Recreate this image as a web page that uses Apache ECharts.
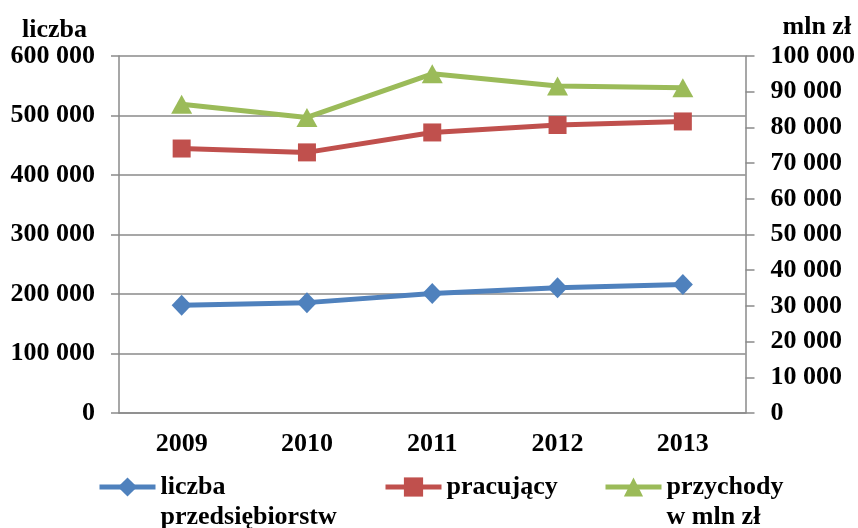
<!DOCTYPE html>
<html>
<head>
<meta charset="utf-8">
<script src="https://cdn.jsdelivr.net/npm/echarts@6/dist/echarts.min.js"></script>
<style>
  html, body { margin: 0; padding: 0; background: #fff; }
  #chart { width: 858px; height: 528px; }
</style>
</head>
<body>
<div id="chart"></div>
<script>
// Years on the category axis
const years = ['2009', '2010', '2011', '2012', '2013'];
// Number of enterprises (left axis)
const liczbaPrzedsiebiorstw = [181000, 185500, 201000, 210500, 216000];
// Employed persons (left axis)
const pracujacy = [444500, 438000, 471500, 484000, 490000];
// Revenue in million PLN (right axis)
const przychody = [86500, 82800, 95000, 91600, 91100];

// Axis ranges / steps
const leftMax = 600000, leftStep = 100000;
const rightMax = 100000, rightStep = 10000;

const FONT = "'Liberation Serif', 'Times New Roman', serif";
const FS = 26;
const AXIS_GRAY = '#8a8a8a';
const BLUE = '#4F81BD', RED = '#C0504D', GREEN = '#9BBB59';

const fmt = v => String(v).replace(/\B(?=(\d{3})+(?!\d))/g, ' ');
const txt = { fontFamily: FONT, fontWeight: 'bold', fontSize: FS, color: '#000' };

const chart = echarts.init(document.getElementById('chart'), null, { renderer: 'canvas' });

// One legend per series so each entry can sit at its own x position.
// Two-line names get an empty leading line so the first line lines up with the icon.
function legendFor(name, left, multiLine) {
  return {
    data: [name],
    left: left,
    top: multiLine ? 442 : 472,
    padding: 0,
    itemWidth: 56,
    itemHeight: 24,
    lineStyle: { width: 5 },
    formatter: n => (multiLine ? ' \n' + n : n),
    textStyle: Object.assign({}, txt, { lineHeight: 30 })
  };
}

chart.setOption({
  animation: false,
  backgroundColor: '#fff',
  grid: { left: 119, right: 110, top: 56, bottom: 115, containLabel: false },
  legend: [
    legendFor('liczba\nprzedsiębiorstw', 97, true),
    legendFor('pracujący', 383, false),
    legendFor('przychody\nw mln zł', 603, true)
  ],
  xAxis: {
    type: 'category',
    data: years,
    boundaryGap: true,
    axisLine: { lineStyle: { color: AXIS_GRAY, width: 1.5 } },
    axisTick: { show: false },
    axisLabel: Object.assign({}, txt, { margin: 18 })
  },
  yAxis: [
    {
      type: 'value',
      min: 0, max: leftMax, interval: leftStep,
      name: 'liczba',
      nameLocation: 'end',
      nameGap: 12,
      nameTextStyle: Object.assign({}, txt, { align: 'right', padding: [0, 32, 0, 0] }),
      axisLine: { show: true, lineStyle: { color: AXIS_GRAY, width: 1.5 } },
      axisTick: { show: true, inside: false, length: 8, lineStyle: { color: AXIS_GRAY, width: 1.5 } },
      splitLine: { show: true, lineStyle: { color: AXIS_GRAY, width: 1.5 } },
      axisLabel: Object.assign({}, txt, { margin: 24, formatter: fmt })
    },
    {
      type: 'value',
      position: 'right',
      min: 0, max: rightMax, interval: rightStep,
      name: 'mln zł',
      nameLocation: 'end',
      nameGap: 16,
      nameTextStyle: Object.assign({}, txt, { align: 'left', padding: [0, 0, 0, 37] }),
      axisLine: { show: true, lineStyle: { color: AXIS_GRAY, width: 1.5 } },
      axisTick: { show: true, inside: false, length: 9, lineStyle: { color: AXIS_GRAY, width: 1.5 } },
      splitLine: { show: false },
      axisLabel: Object.assign({}, txt, { margin: 25, formatter: fmt })
    }
  ],
  series: [
    {
      name: 'liczba\nprzedsiębiorstw',
      type: 'line',
      yAxisIndex: 0,
      data: liczbaPrzedsiebiorstw,
      symbol: 'diamond',
      symbolSize: [20, 21],
      lineStyle: { color: BLUE, width: 5 },
      itemStyle: { color: BLUE }
    },
    {
      name: 'pracujący',
      type: 'line',
      yAxisIndex: 0,
      data: pracujacy,
      symbol: 'rect',
      symbolSize: 18,
      lineStyle: { color: RED, width: 5 },
      itemStyle: { color: RED }
    },
    {
      name: 'przychody\nw mln zł',
      type: 'line',
      yAxisIndex: 1,
      data: przychody,
      symbol: 'triangle',
      symbolSize: [21, 19],
      lineStyle: { color: GREEN, width: 5 },
      itemStyle: { color: GREEN }
    }
  ]
});
</script>
</body>
</html>
